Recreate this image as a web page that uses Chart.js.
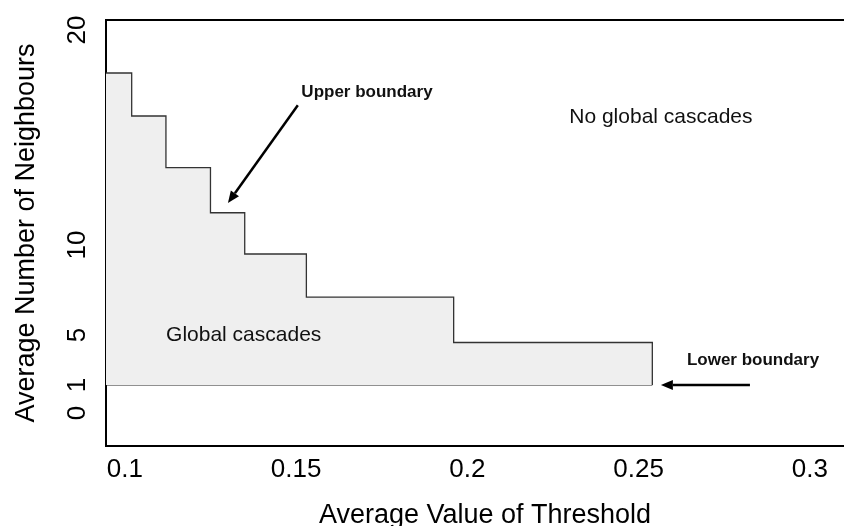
<!DOCTYPE html>
<html>
<head>
<meta charset="utf-8">
<script src="https://cdn.jsdelivr.net/npm/chart.js@4/dist/chart.umd.min.js"></script>
<style>
  html, body { margin: 0; padding: 0; background: #fff; width: 844px; height: 526px; overflow: hidden; }
  canvas { display: block; }
</style>
</head>
<body>
<!-- canvas is a little wider than the page: the original figure is cropped on the right -->
<canvas id="cascadeChart" width="864" height="526"></canvas>
<script>
// Staircase: right edge of each step (threshold) and its height (neighbours)
const stepEdges = [0.102, 0.112, 0.125, 0.135, 0.153, 0.196, 0.254];
const upperLevels = [18.0, 16.0, 13.6, 11.5, 9.5, 7.1, 4.4];
const lowerLevel = 1;

// Axis ticks
const xTicks = [0.1, 0.15, 0.2, 0.25, 0.3];
const xTickLabels = ['0.1', '0.15', '0.2', '0.25', '0.3'];
const yTicks = [0, 1, 5, 10, 20];
const yTickLabels = ['0', '1', '5', '10', '20'];

const X_MIN = 0.0945;
const X_MAX = 0.3158;
const FONT = 'Arial, "Liberation Sans", sans-serif';

// The printed y axis is not evenly spaced: value -> fraction of axis height
const Y_KNOTS = [[-1.18, 0], [0, 0.0775], [1, 0.1432], [5, 0.2606], [10, 0.4718], [20, 0.9765], [20.47, 1]];

function valueToDecimal(v) {
    for (let i = 1; i < Y_KNOTS.length; i++) {
        const [v0, d0] = Y_KNOTS[i - 1];
        const [v1, d1] = Y_KNOTS[i];
        if (v <= v1 || i === Y_KNOTS.length - 1) return d0 + (v - v0) / (v1 - v0) * (d1 - d0);
    }
}
function decimalToValue(d) {
    for (let i = 1; i < Y_KNOTS.length; i++) {
        const [v0, d0] = Y_KNOTS[i - 1];
        const [v1, d1] = Y_KNOTS[i];
        if (d <= d1 || i === Y_KNOTS.length - 1) return v0 + (d - d0) / (d1 - d0) * (v1 - v0);
    }
}

class PiecewiseScale extends Chart.LinearScale {
    static id = 'piecewise';
    static defaults = Chart.LinearScale.defaults;
    getPixelForValue(value) {
        if (value === null || value === undefined) return NaN;
        return this.getPixelForDecimal(valueToDecimal(value));
    }
    getValueForPixel(pixel) {
        return decimalToValue(this.getDecimalForPixel(pixel));
    }
}
Chart.register(PiecewiseScale);

// Build the staircase points
const upperPoints = upperLevels.map((lv, i) => ({ x: i === 0 ? X_MIN : stepEdges[i - 1], y: lv }));
upperPoints.push({ x: stepEdges[stepEdges.length - 1], y: lowerLevel });
const lowerPoints = [{ x: X_MIN, y: lowerLevel }, { x: stepEdges[stepEdges.length - 1], y: lowerLevel }];

// Annotations, placed in data units
const notes = [
    { text: 'Upper boundary', at: [0.1707, 17.1], font: 'bold 17px ' + FONT },
    { text: 'Lower boundary', at: [0.2834, 3.0], font: 'bold 17px ' + FONT },
    { text: 'No global cascades', at: [0.2565, 15.95], font: '21px ' + FONT },
    { text: 'Global cascades', at: [0.1347, 5.0], font: '21px ' + FONT }
];
const arrows = [
    { from: [0.1505, 16.5], to: [0.1301, 11.95] },
    { from: [0.2825, 1.0], to: [0.2565, 1.0] }
];

function drawArrow(ctx, x1, y1, x2, y2) {
    const ang = Math.atan2(y2 - y1, x2 - x1);
    const len = 12, half = 5;
    const bx = x2 - len * Math.cos(ang), by = y2 - len * Math.sin(ang);
    ctx.beginPath();
    ctx.moveTo(x1, y1);
    ctx.lineTo(bx, by);
    ctx.stroke();
    ctx.beginPath();
    ctx.moveTo(x2, y2);
    ctx.lineTo(bx + half * Math.sin(ang), by - half * Math.cos(ang));
    ctx.lineTo(bx - half * Math.sin(ang), by + half * Math.cos(ang));
    ctx.closePath();
    ctx.fill();
}

const notesPlugin = {
    id: 'notes',
    afterDatasetsDraw(chart) {
        const { ctx, scales: { x, y } } = chart;
        ctx.save();
        ctx.strokeStyle = '#000';
        ctx.fillStyle = '#000';
        ctx.lineWidth = 2.5;
        arrows.forEach(a => drawArrow(ctx,
            x.getPixelForValue(a.from[0]), y.getPixelForValue(a.from[1]),
            x.getPixelForValue(a.to[0]), y.getPixelForValue(a.to[1])));
        ctx.textAlign = 'center';
        ctx.textBaseline = 'middle';
        notes.forEach(n => {
            ctx.font = n.font;
            ctx.fillStyle = '#111';
            ctx.fillText(n.text, x.getPixelForValue(n.at[0]), y.getPixelForValue(n.at[1]));
        });
        ctx.restore();
    }
};

// fixed axis boxes, no extra room for overhanging labels
function fixBox(size) {
    return s => {
        if (s.isHorizontal()) s.height = size; else s.width = size;
        s.paddingTop = 0;
        s.paddingBottom = 0;
        s.paddingLeft = 0;
        s.paddingRight = 0;
    };
}

new Chart(document.getElementById('cascadeChart'), {
    type: 'line',
    data: {
        datasets: [
            {
                label: 'Upper boundary',
                data: upperPoints,
                stepped: 'before',
                borderColor: '#333',
                borderWidth: 1.3,
                backgroundColor: '#efefef',
                fill: { value: lowerLevel },
                pointRadius: 0
            },
            {
                label: 'Lower boundary',
                data: lowerPoints,
                borderColor: '#222',
                borderWidth: 1.2,
                fill: false,
                pointRadius: 0
            }
        ]
    },
    options: {
        responsive: false,
        animation: false,
        devicePixelRatio: 1,
        layout: { padding: 0 },
        plugins: { legend: { display: false }, tooltip: { enabled: false } },
        scales: {
            x: {
                type: 'linear',
                position: 'bottom',
                min: X_MIN,
                max: X_MAX,
                afterBuildTicks: s => { s.ticks = xTicks.map(v => ({ value: v })); },
                afterFit: fixBox(80),
                grid: { display: false, drawTicks: false },
                border: { display: true, color: '#000', width: 2 },
                ticks: {
                    autoSkip: false,
                    maxRotation: 0,
                    padding: 8,
                    color: '#000',
                    font: { family: FONT, size: 26 },
                    callback: (v, i) => xTickLabels[i]
                },
                title: {
                    display: true,
                    text: 'Average Value of Threshold',
                    color: '#000',
                    font: { family: FONT, size: 27 },
                    padding: { top: 0, bottom: -6 }
                }
            },
            x2: {
                type: 'linear',
                position: 'top',
                min: X_MIN,
                max: X_MAX,
                afterFit: fixBox(20),
                grid: { display: false, drawTicks: false },
                border: { display: true, color: '#000', width: 2 },
                ticks: { display: false }
            },
            y: {
                type: 'piecewise',
                position: 'left',
                min: -1.18,
                max: 20.47,
                afterBuildTicks: s => { s.ticks = yTicks.map(v => ({ value: v })); },
                afterFit: fixBox(106),
                grid: { display: false, drawTicks: false },
                border: { display: true, color: '#000', width: 2 },
                ticks: {
                    autoSkip: false,
                    minRotation: 90,
                    maxRotation: 90,
                    crossAlign: 'center',
                    padding: 14,
                    color: '#000',
                    font: { family: FONT, size: 26 },
                    callback: (v, i) => yTickLabels[i]
                },
                title: {
                    display: true,
                    text: 'Average Number of Neighbours',
                    color: '#000',
                    font: { family: FONT, size: 27 },
                    padding: { top: 10, bottom: 0 }
                }
            }
        }
    },
    plugins: [notesPlugin]
});
</script>
</body>
</html>
